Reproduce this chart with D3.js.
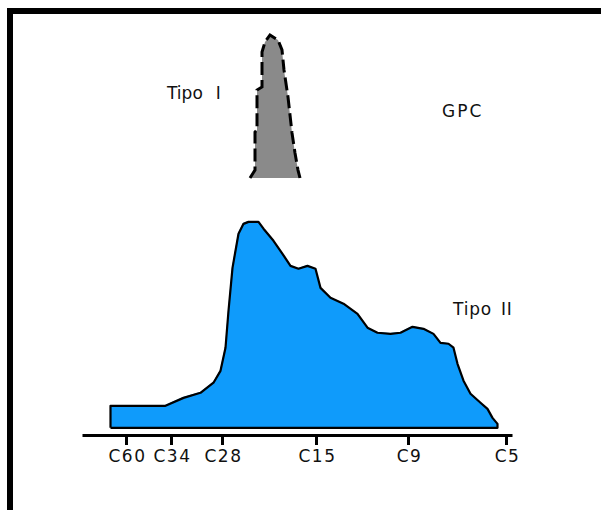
<!DOCTYPE html>
<html>
<head>
<meta charset="utf-8">
<script src="https://cdn.jsdelivr.net/npm/d3@7/dist/d3.min.js"></script>
<style>
  html, body { margin: 0; padding: 0; background: #fff; }
  svg { display: block; }
  text { font-family: "DejaVu Sans", Verdana, sans-serif; fill: #111; }
</style>
</head>
<body>
<svg id="chart" width="601" height="510"></svg>
<script>
// ---- data (retention units along x, relative response along y) ----
const tickLabels = ["C60", "C34", "C28", "C15", "C9", "C5"];
const tickPositions = [4.4, 8.9, 14.0, 23.4, 32.6, 42.4];

const tipoIX = [16.8, 17.3, 17.3, 17.5, 17.5, 18.0, 18.0, 18.3, 18.8, 19.6, 20.0, 20.2, 20.6, 21.0, 21.3, 21.6, 21.8];
const tipoIY = [0, 3.6, 20.9, 21.8, 40, 41.4, 57.3, 61.8, 65, 62.7, 58.2, 49.1, 36.8, 20.5, 11.4, 3.6, 0];

const tipoIIX = [2.8, 2.8, 8.3, 10.1, 11.8, 13.1, 13.8, 14.3, 14.6, 15.0, 15.3, 15.6, 16.1, 16.6, 17.6, 18.1, 19.1, 20.0, 20.8, 21.6, 22.5, 23.3, 23.8, 24.8, 26.1, 27.5, 28.5, 29.5, 30.8, 31.8, 33.0, 34.1, 35.1, 35.8, 36.6, 37.1, 37.5, 38.1, 38.8, 39.8, 40.5, 41.0, 41.5, 41.5];
const tipoIIY = [0, 10, 10, 13.6, 15.9, 20.5, 25.9, 36.4, 53.2, 72.7, 80.5, 88.2, 92.7, 93.6, 93.6, 90.5, 85, 79.1, 73.6, 72.3, 73.6, 72.3, 63.6, 59.1, 56.4, 51.8, 45.5, 43.2, 42.7, 43.2, 45.9, 45, 42.7, 38.6, 38.2, 36.4, 29.1, 21.4, 15.5, 11.4, 8.6, 4.5, 1.8, 0];

const labels = [
  {parts: ["Tipo", "I"], gap: 13, x: 167, y: 99, ls: 0},
  {parts: ["GPC"], gap: 0, x: 442, y: 117, ls: 2},
  {parts: ["Tipo", "II"], gap: 9, x: 453, y: 315, ls: 0.8}
];

// ---- drawing ----
const svg = d3.select("#chart");

// frame
svg.append("rect")
  .attr("x", 10).attr("y", 11)
  .attr("width", 800).attr("height", 800)
  .attr("fill", "none").attr("stroke", "#000").attr("stroke-width", 6);

const x = d3.scaleLinear().domain([0, 43]).range([82, 512]);
const yLower = d3.scaleLinear().domain([0, 100]).range([427, 207]);
const yUpper = d3.scaleLinear().domain([0, 100]).range([178, -42]);

const dataII = tipoIIX.map((v, i) => ({x: v, y: tipoIIY[i]}));
const dataI = tipoIX.map((v, i) => ({x: v, y: tipoIY[i]}));

// Tipo II area
const areaII = d3.area().x(d => x(d.x)).y0(yLower(0)).y1(d => yLower(d.y));
svg.append("path").datum(dataII)
  .attr("d", areaII)
  .attr("fill", "#0f9bfb");
const lineII = d3.line().x(d => x(d.x)).y(d => yLower(d.y));
svg.append("path").datum(dataII.concat([dataII[0]]))
  .attr("d", lineII)
  .attr("fill", "none").attr("stroke", "#000").attr("stroke-width", 2.2)
  .attr("stroke-linejoin", "round")
  .attr("transform", "translate(0.5,0.8)");

// Tipo I peak
const areaI = d3.area().x(d => x(d.x)).y0(yUpper(0)).y1(d => yUpper(d.y));
svg.append("path").datum(dataI)
  .attr("d", areaI)
  .attr("fill", "#8a8a8a");
const lineI = d3.line().x(d => x(d.x)).y(d => yUpper(d.y));
svg.append("path").datum(dataI)
  .attr("d", lineI)
  .attr("fill", "none").attr("stroke", "#000").attr("stroke-width", 3)
  .attr("stroke-dasharray", "13,5");

// axis
const axis = d3.axisBottom(x)
  .tickValues(tickPositions)
  .tickFormat((d, i) => tickLabels[i])
  .tickSize(10).tickSizeOuter(0).tickPadding(5);
const gAxis = svg.append("g").attr("transform", "translate(0,435)").call(axis);
gAxis.select(".domain").attr("stroke", "#000").attr("stroke-width", 3);
gAxis.selectAll(".tick line").attr("stroke", "#000").attr("stroke-width", 3);
gAxis.selectAll(".tick text")
  .attr("fill", "#111")
  .attr("dx", "1px")
  .style("font-family", '"DejaVu Sans", Verdana, sans-serif')
  .style("font-size", "17px")
  .style("letter-spacing", "1.5px");

// labels
labels.forEach(l => {
  const t = svg.append("text")
    .attr("x", l.x).attr("y", l.y)
    .style("font-size", "17px")
    .style("letter-spacing", l.ls + "px");
  l.parts.forEach((p, i) => {
    t.append("tspan").attr("dx", i === 0 ? 0 : l.gap).text(p);
  });
});
</script>
</body>
</html>
